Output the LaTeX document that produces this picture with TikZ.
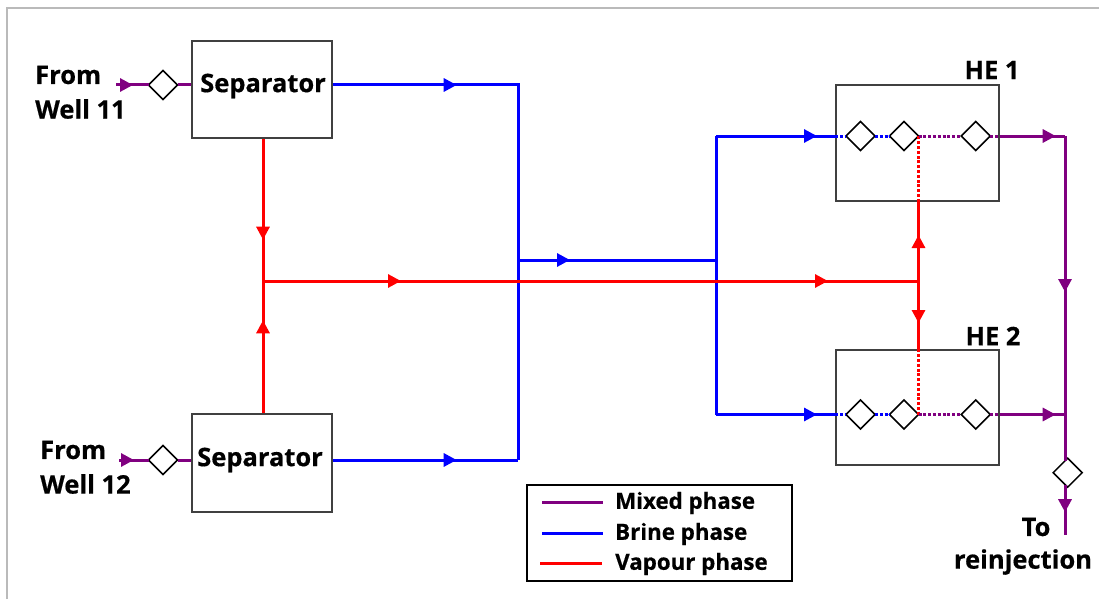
\documentclass[tikz,border=0pt]{standalone}
\usepackage{fontspec}
\setmainfont{Open Sans}[BoldFeatures={FakeBold=0.5}]
\usetikzlibrary{arrows.meta,decorations.markings,shapes.geometric}
\definecolor{mixedcol}{HTML}{800080}
\definecolor{brinecol}{HTML}{0000FF}
\definecolor{vapourcol}{HTML}{FF0000}
\tikzset{
	unitbox/.style={draw=black!75, line width=1.4pt, fill=none, rectangle, inner sep=0pt, minimum width=#1},
	valve/.style={draw=black, fill=white, line width=1.5pt, diamond, inner sep=0pt, outer sep=0pt, minimum width=29pt, minimum height=29pt},
	lab/.style={font=\fontsize{25.5}{29}\selectfont\bfseries, text=black, inner sep=0pt},
	keylab/.style={font=\fontsize{22.3}{26}\selectfont\bfseries, text=black, inner sep=0pt, anchor=west},
	mixed/.style={draw=mixedcol, line width=3pt},
	brine/.style={draw=brinecol, line width=3pt},
	vapour/.style={draw=vapourcol, line width=3pt},
	inside/.style={dash pattern=on 3pt off 1.8pt},
	flow/.style={postaction={decorate}, decoration={markings, mark=at position #1 with {\arrow{Triangle[length=13pt,width=13pt]}}}},
}

\begin{document}
\begin{tikzpicture}[x=1pt, y=-1pt]
			%%%%% START %%%%%
			\useasboundingbox (0, 0) rectangle (1099, 599);
			
			\draw[line width=2pt, color=black!27] (7, 599) -- (7, 8) -- (1099, 8);
			
			% units
			\node[unitbox=140pt, minimum height=97pt] (sep1) at (262, 89.5) {};
			\node[unitbox=140pt, minimum height=98pt] (sep2) at (262, 463) {};
			\node[unitbox=163pt, minimum height=116pt] (he1) at (917.5, 143) {};
			\node[unitbox=163pt, minimum height=115pt] (he2) at (917.5, 407.5) {};
			
			% junctions and free ends
			\coordinate (in1) at (116, 85);
			\coordinate (in2) at (119, 460);
			\coordinate (brinemain) at (518, 260);
			\coordinate (brinesplit) at (716, 260);
			\coordinate (vapourleft) at (263, 281);
			\coordinate (vapourright) at (918.5, 281);
			\coordinate (mixedtop) at (1065, 136);
			\coordinate (mixedjoin) at (1065, 414.5);
			\coordinate (outend) at (1065, 535);
			
			% valves
			\node[valve] (v11) at (163, 85) {};
			\node[valve] (v12) at (163, 460) {};
			\node[valve] (a1) at (860.5, 136) {};
			\node[valve] (b1) at (904, 136) {};
			\node[valve] (c1) at (975.7, 136) {};
			\node[valve] (a2) at (860.5, 414.5) {};
			\node[valve] (b2) at (904, 414.5) {};
			\node[valve] (c2) at (975.7, 414.5) {};
			\node[valve] (vout) at (1067.7, 472.7) {};
			
			% well inlets
			\draw[mixed, flow=17pt] (in1) -- (v11.west);
			\draw[mixed] (v11.east) -- (v11 -| sep1.west);
			\draw[mixed, flow=15pt] (in2) -- (v12.west);
			\draw[mixed] (v12.east) -- (v12 -| sep2.west);
			
			% brine
			\draw[brine, flow=124pt] (v11 -| sep1.east) -- (brinemain |- v11) -- (brinemain |- v12);
			\draw[brine, flow=124pt] (v12 -| sep2.east) -- (brinemain |- v12);
			\draw[brine, flow=52pt] (brinemain) -- (brinesplit);
			\draw[brine] (brinesplit |- a1) -- (brinesplit |- a2);
			\draw[brine, flow=101pt] (brinesplit |- a1) -- (a1 -| he1.west);
			\draw[brine, flow=101pt] (brinesplit |- a2) -- (a2 -| he2.west);
			\draw[brine, inside] (a1 -| he1.west) -- (a1.west);
			\draw[brine, inside] (a2 -| he2.west) -- (a2.west);
			\draw[brine, inside] (a1.east) -- (b1.west);
			\draw[brine, inside] (a2.east) -- (b2.west);
			
			% vapour
			\draw[vapour, flow=101pt] (vapourleft |- sep1.south) -- (vapourleft);
			\draw[vapour, flow=93pt] (vapourleft |- sep2.north) -- (vapourleft);
			\draw[vapour, flow=138pt] (vapourleft) -- (vapourright);
			\draw[vapour, flow=565pt] (vapourleft) -- (vapourright);
			\draw[vapour, flow=46pt] (vapourright) -- (vapourright |- he1.south);
			\draw[vapour, flow=42pt] (vapourright) -- (vapourright |- he2.north);
			\draw[vapour, inside] (vapourright |- he1.south) -- (b1.east);
			\draw[vapour, inside] (vapourright |- he2.north) -- (b2.east);
			
			% mixed outlets
			\draw[mixed, inside] (b1.east) -- (c1.west);
			\draw[mixed, inside] (b2.east) -- (c2.west);
			\draw[mixed, inside] (c1.east) -- (c1 -| he1.east);
			\draw[mixed, inside] (c2.east) -- (c2 -| he2.east);
			\draw[mixed, flow=56pt] (c1 -| he1.east) -- (mixedtop);
			\draw[mixed, flow=56pt] (c2 -| he2.east) -- (mixedjoin);
			\draw[mixed, flow=156pt, shorten >=-2.7pt] (mixedtop) -- (vout.north -| mixedtop);
			\draw[mixed, flow=25pt, shorten <=-2.7pt] (vout.south -| outend) -- (outend);
			
			% labels
			\node[lab] (sep1lab) at (263, 86) {Separator};
			\node[lab] (sep2lab) at (260, 460) {Separator};
			\node[lab, anchor=west] (from1) at (35, 75) {From};
			\node[lab, anchor=west] (well1) at (35, 109) {Well 11};
			\node[lab, anchor=west] (from2) at (40, 450) {From};
			\node[lab, anchor=west] (well2) at (40, 484) {Well 12};
			\node[lab] (he1lab) at (992, 70) {HE 1};
			\node[lab] (he2lab) at (993, 336) {HE 2};
			\node[lab] (tolab) at (1036, 527) {To};
			\node[lab] (reinj) at (1023, 562) {reinjection};
			
			% key
			\node[draw=black, line width=1.5pt, rectangle, inner sep=0pt, minimum width=265pt, minimum height=96pt] (key) at (659.5, 533) {};
			\node[keylab] (keymixed) at (615, 503) {Mixed phase};
			\node[keylab] (keybrine) at (615, 534) {Brine phase};
			\node[keylab] (keyvapour) at (615, 564) {Vapour phase};
			\coordinate (mixedfrom) at (542, 502);
			\coordinate (mixedto) at (603, 502);
			\coordinate (brinefrom) at (542, 533);
			\coordinate (brineto) at (603, 533);
			\coordinate (vapourfrom) at (540, 563);
			\coordinate (vapourto) at (602, 563);
			\draw[mixed] (mixedfrom) -- (mixedto);
			\draw[brine] (brinefrom) -- (brineto);
			\draw[vapour] (vapourfrom) -- (vapourto);
			
			%%%%% END %%%%%
		\end{tikzpicture}
\end{document}
